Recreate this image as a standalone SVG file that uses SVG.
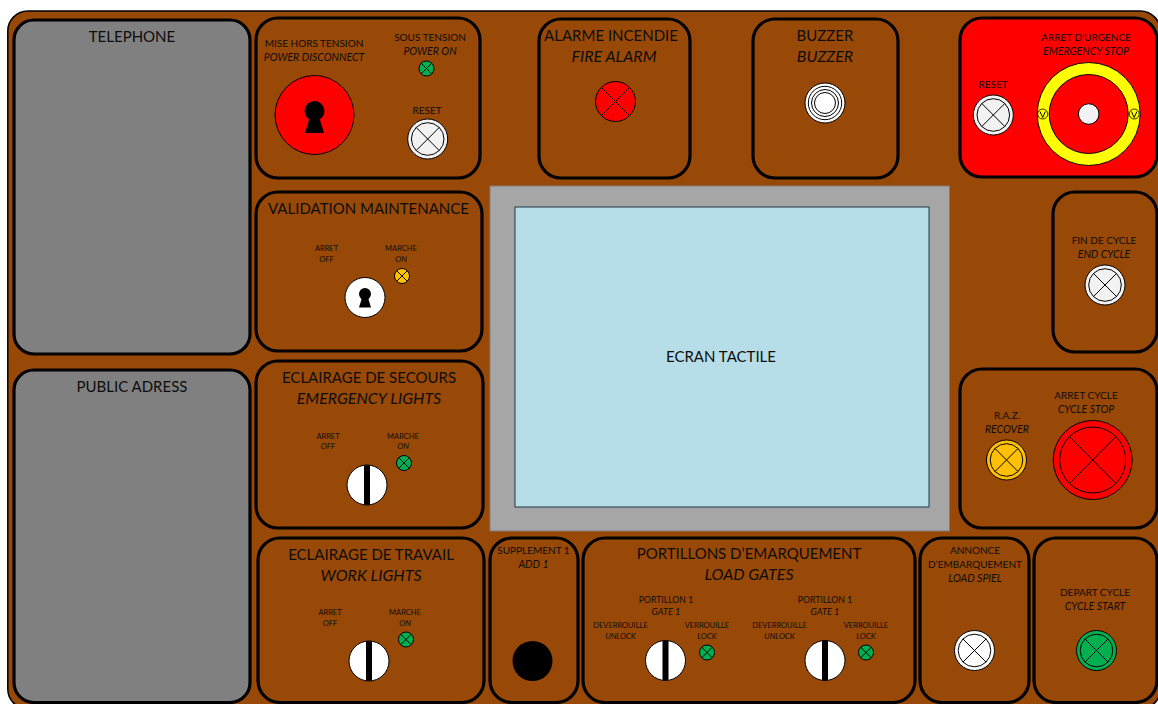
<svg xmlns="http://www.w3.org/2000/svg" width="1158" height="704" viewBox="0 0 1158 704">
<style>
text{font-family:"Lato","Liberation Sans",sans-serif;fill:#0d0d0d;text-anchor:middle}
.t{font-size:15px}.m{font-size:10px}.s{font-size:7.5px}.p{font-size:8.7px}
.i{font-style:italic}
.t.i{font-size:16px}.m.i{font-size:10.500px}.s.i{font-size:8px}.p.i{font-size:9.200px}
.panel{fill:#984807;stroke:#000;stroke-width:3.2}
.l{stroke:#000;stroke-width:1;fill:none}
</style>
<defs>
<g id="x20"><circle r="20" class="l" style="fill:inherit"/><circle r="16.3" class="l"/><path d="M-11.7-11.7L11.7 11.7M11.7-11.7L-11.7 11.7" class="l"/></g>
<g id="lamp"><circle r="7.5" class="l" style="fill:inherit"/><path d="M-5.3-5.3L5.3 5.3M5.3-5.3L-5.3 5.3" class="l"/></g>
<g id="sw"><circle r="20" fill="#fff" stroke="#000"/><rect x="-3" y="-19.8" width="6" height="39.6" fill="#000"/></g>
</defs>
<rect id="console" x="7.800" y="11" width="1152.500" height="698" rx="20" fill="#984807" stroke="#000" stroke-width="1.500"/>
<g id="connectors"/>
<g id="telephone"><rect x="14" y="20" width="236" height="334" rx="20" class="panel" style="fill:#808080"/><text class="t" x="132" y="42">TELEPHONE</text></g>
<g id="public-adress"><rect x="14" y="370" width="236" height="332.500" rx="20" class="panel" style="fill:#808080"/><text class="t" x="132" y="392">PUBLIC ADRESS</text></g>
<g id="mise-hors-tension"><rect x="256" y="18" width="224" height="160" rx="22" class="panel"/>
<text class="m" x="314" y="47">MISE HORS TENSION</text><text class="m i" x="314" y="61">POWER DISCONNECT</text>
<text class="m" x="430" y="41">SOUS TENSION</text><text class="m i" x="430" y="55">POWER ON</text>
<text class="m" x="427" y="114">RESET</text>
<circle cx="314.500" cy="115" r="39.500" fill="#f00" stroke="#000"/><circle cx="314.500" cy="111" r="10"/><path d="M310.500 115H318.500L324 133H305Z"/>
<use href="#lamp" x="426.500" y="68.500" fill="#00b050"/><use href="#x20" x="427.700" y="139" fill="#f2f2f2"/></g>
<g id="alarme-incendie"><rect x="539" y="19" width="151" height="159" rx="22" class="panel"/>
<text class="t" x="611" y="41">ALARME INCENDIE</text><text class="t i" x="614" y="62">FIRE ALARM</text>
<circle cx="615.500" cy="101.500" r="20" fill="#f00" stroke="#000"/><path d="M601.500 87.500L629.500 115.500M629.500 87.500L601.500 115.500" class="l"/></g>
<g id="buzzer"><rect x="753" y="19" width="145" height="159" rx="22" class="panel"/>
<text class="t" x="825" y="41">BUZZER</text><text class="t i" x="825" y="62">BUZZER</text>
<g fill="#fff" stroke="#000"><circle cx="825" cy="103" r="20"/><circle cx="825" cy="103" r="16.700"/><circle cx="825" cy="103" r="13.500"/><circle cx="825" cy="103" r="10.500"/></g></g>
<g id="arret-urgence"><rect x="960" y="18" width="197" height="159" rx="22" class="panel" style="fill:#f00"/>
<text class="m" x="1086" y="41">ARRET D’URGENCE</text><text class="m i" x="1086" y="55">EMERGENCY STOP</text><text class="m" x="993" y="88">RESET</text>
<use href="#x20" x="993.300" y="115" fill="#f2f2f2"/>
<circle cx="1088.700" cy="114" r="51.500" fill="#ff0" stroke="#000"/><circle cx="1088.700" cy="114" r="39.500" fill="#f00" stroke="#000"/><circle cx="1088.700" cy="114" r="10.300" fill="#f2f2f2" stroke="#000"/>
<g fill="#ff0" stroke="#000" stroke-width=".8"><circle cx="1042.700" cy="114" r="5"/><circle cx="1134.200" cy="114" r="5"/></g>
<path d="M1040 111.500L1042.700 117.500L1045.400 111.500M1131.500 111.500L1134.200 117.500L1136.900 111.500" fill="none" stroke="#000" stroke-width="1"/></g>
<g id="validation-maintenance"><rect x="256" y="192" width="226" height="159" rx="22" class="panel"/>
<text class="t" x="368.500" y="214">VALIDATION MAINTENANCE</text>
<text class="s" x="326.500" y="251">ARRET</text><text class="s i" x="326.500" y="262">OFF</text><text class="s" x="401" y="251">MARCHE</text><text class="s i" x="401" y="262">ON</text>
<use href="#lamp" x="402" y="276" fill="#ffc000"/>
<circle cx="365" cy="297.500" r="20" fill="#fff" stroke="#000"/><circle cx="365" cy="294" r="6"/><path d="M362.500 296H367.500L371 307.500H359Z"/></g>
<g id="eclairage-secours"><rect x="256" y="361" width="227" height="167" rx="22" class="panel"/>
<text class="t" x="369" y="383">ECLAIRAGE DE SECOURS</text><text class="t i" x="369" y="404">EMERGENCY LIGHTS</text>
<text class="s" x="328" y="439">ARRET</text><text class="s i" x="328" y="449">OFF</text><text class="s" x="403" y="439">MARCHE</text><text class="s i" x="403" y="449">ON</text>
<use href="#lamp" x="404" y="463" fill="#00b050"/><use href="#sw" x="367" y="485"/></g>
<g id="eclairage-travail"><rect x="258" y="538" width="226" height="164.500" rx="22" class="panel"/>
<text class="t" x="371" y="560">ECLAIRAGE DE TRAVAIL</text><text class="t i" x="371" y="581">WORK LIGHTS</text>
<text class="s" x="330" y="615">ARRET</text><text class="s i" x="330" y="626">OFF</text><text class="s" x="405" y="615">MARCHE</text><text class="s i" x="405" y="626">ON</text>
<use href="#lamp" x="406" y="639.500" fill="#00b050"/><use href="#sw" x="369" y="661"/></g>
<g id="supplement"><rect x="490" y="538" width="88" height="164.500" rx="22" class="panel"/>
<text class="m" x="533.500" y="554">SUPPLEMENT 1</text><text class="m i" x="533.500" y="568">ADD 1</text><circle cx="532.500" cy="661" r="20"/></g>
<g id="ecran-tactile"><rect x="490" y="186" width="459.500" height="345" fill="#a6a6a6" stroke="#7f7f7f"/><rect x="515" y="207" width="414" height="300" fill="#b7dde8" stroke="#1f3a44"/><text class="t" x="721" y="362">ECRAN TACTILE</text></g>
<g id="portillons"><rect x="583" y="538" width="332" height="164.500" rx="22" class="panel"/>
<text class="t" x="749" y="559">PORTILLONS D’EMARQUEMENT</text><text class="t i" x="749" y="580">LOAD GATES</text>
<text class="p" x="666" y="603">PORTILLON 1</text><text class="p i" x="666" y="615">GATE 1</text><text class="s" x="620.500" y="628">DEVERROUILLE</text><text class="s i" x="620.500" y="639">UNLOCK</text><text class="s" x="707" y="628">VERROUILLE</text><text class="s i" x="707" y="639">LOCK</text>
<text class="p" x="825" y="603">PORTILLON 1</text><text class="p i" x="825" y="615">GATE 1</text><text class="s" x="779.500" y="628">DEVERROUILLE</text><text class="s i" x="779.500" y="639">UNLOCK</text><text class="s" x="866" y="628">VERROUILLE</text><text class="s i" x="866" y="639">LOCK</text>
<use href="#sw" x="665.500" y="660.500"/><use href="#sw" x="825" y="660.500"/><use href="#lamp" x="707" y="652.500" fill="#00b050"/><use href="#lamp" x="866" y="652.500" fill="#00b050"/></g>
<g id="annonce"><rect x="920" y="538" width="109" height="164.500" rx="22" class="panel"/>
<text class="m" x="975" y="554">ANNONCE</text><text class="m" x="975" y="568">D’EMBARQUEMENT</text><text class="m i" x="975" y="582">LOAD SPIEL</text><use href="#x20" x="974.500" y="650.500" fill="#fff"/></g>
<g id="depart-cycle"><rect x="1034" y="538" width="123" height="164.500" rx="22" class="panel"/>
<text class="m" x="1095" y="596">DEPART CYCLE</text><text class="m i" x="1095" y="610">CYCLE START</text><use href="#x20" x="1096.500" y="650.500" fill="#00b050"/></g>
<g id="fin-cycle"><rect x="1053" y="192" width="104" height="160" rx="22" class="panel"/>
<text class="m" x="1104" y="244">FIN DE CYCLE</text><text class="m i" x="1104" y="258">END CYCLE</text><use href="#x20" x="1105" y="285" fill="#f2f2f2"/></g>
<g id="arret-cycle"><rect x="960" y="369" width="197" height="159" rx="22" class="panel"/>
<text class="m" x="1007" y="419">R.A.Z.</text><text class="m i" x="1007" y="433">RECOVER</text><text class="m" x="1086" y="399">ARRET CYCLE</text><text class="m i" x="1086" y="413">CYCLE STOP</text>
<use href="#x20" x="1006.500" y="460" fill="#ffc000"/>
<circle cx="1092.700" cy="460" r="39.500" fill="#f00" stroke="#000"/><circle cx="1092.700" cy="460" r="33" class="l"/><path d="M1069.500 436.500L1116 483.500M1116 436.500L1069.500 483.500" class="l"/></g>
</svg>
